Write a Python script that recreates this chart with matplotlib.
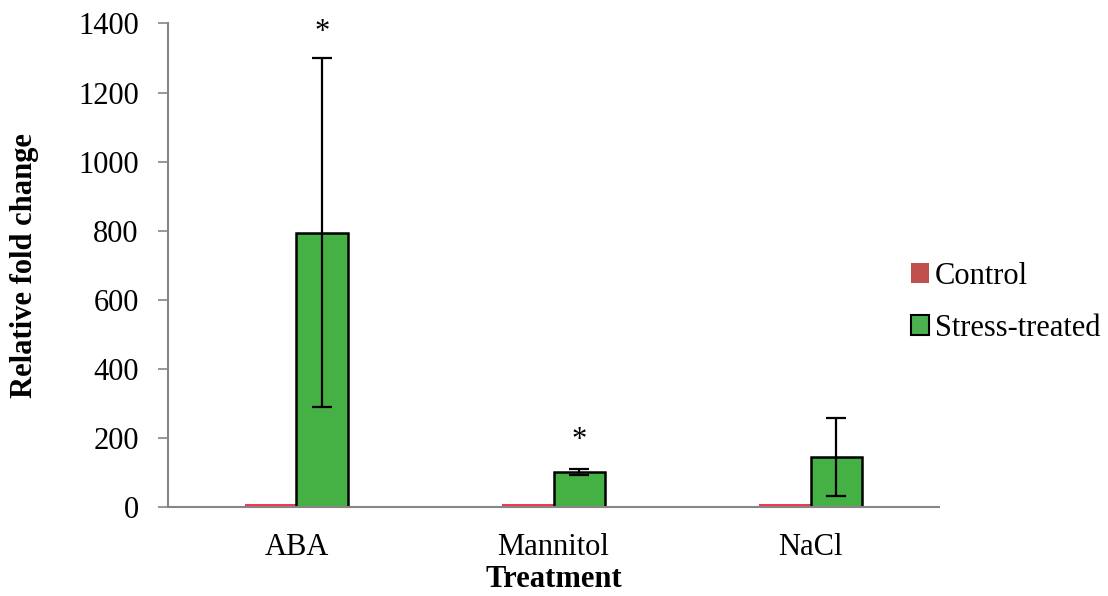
import matplotlib
matplotlib.use('Agg')
import matplotlib.pyplot as plt
import numpy as np

plt.rcParams['font.family'] = ['Liberation Serif', 'DejaVu Serif']

# 数据
treatments = ['ABA', 'Mannitol', 'NaCl']
control = [10, 8, 10]
stress = [794, 102, 145]
stress_err = [505, 8, 113]
star_pos = [1375, 194]   # 显著性标记 (ABA, Mannitol)

fig = plt.figure(figsize=(11.08, 5.96), dpi=100)
ax = fig.add_axes([0.1516, 0.1493, 0.6959, 0.8113])

x = np.arange(len(treatments))
w = 0.2
ax.bar(x - w/2, control, w, color='#ee3a52', label='Control', zorder=2)
ax.bar(x + w/2, stress, w, color='#45b145', edgecolor='black', linewidth=1.8,
       label='Stress-treated', zorder=2)
ax.errorbar(x + w/2, stress, yerr=stress_err, fmt='none', ecolor='black',
            elinewidth=1.6, capsize=7, capthick=1.6, zorder=3)

for i, y in enumerate(star_pos):
    ax.text(x[i] + w/2, y, '*', ha='center', va='center', fontsize=22)

ax.set_xlim(-0.5, 2.5)
ax.set_ylim(0, 1400)
ax.set_yticks(range(0, 1401, 200))
ax.set_xticks(x)
ax.set_xticklabels(treatments)
ax.tick_params(axis='y', labelsize=22, length=7, color='#868686', width=1.2, pad=14)
ax.tick_params(axis='x', labelsize=22, length=0, pad=19)
for s in ['top', 'right']:
    ax.spines[s].set_visible(False)
for s in ['left', 'bottom']:
    ax.spines[s].set_color('#868686')
    ax.spines[s].set_linewidth(1.5)
ax.set_xlabel('Treatment', fontsize=22, fontweight='bold', labelpad=2)
ax.set_ylabel('Relative fold change', fontsize=22, fontweight='bold', labelpad=28)

h1 = plt.Rectangle((0, 0), 1, 1, facecolor='#c0504d')
h2 = plt.Rectangle((0, 0), 1, 1, facecolor='#4cb050', edgecolor='black', linewidth=1.5)
fig.legend([h1, h2], ['Control', 'Stress-treated'], loc='center left',
           bbox_to_anchor=(0.822, 0.493), frameon=False, fontsize=22,
           handlelength=0.6, handleheight=0.6, handletextpad=0.2, labelspacing=0.75,
           borderaxespad=0, borderpad=0)

fig.savefig('out.png', dpi=100)
